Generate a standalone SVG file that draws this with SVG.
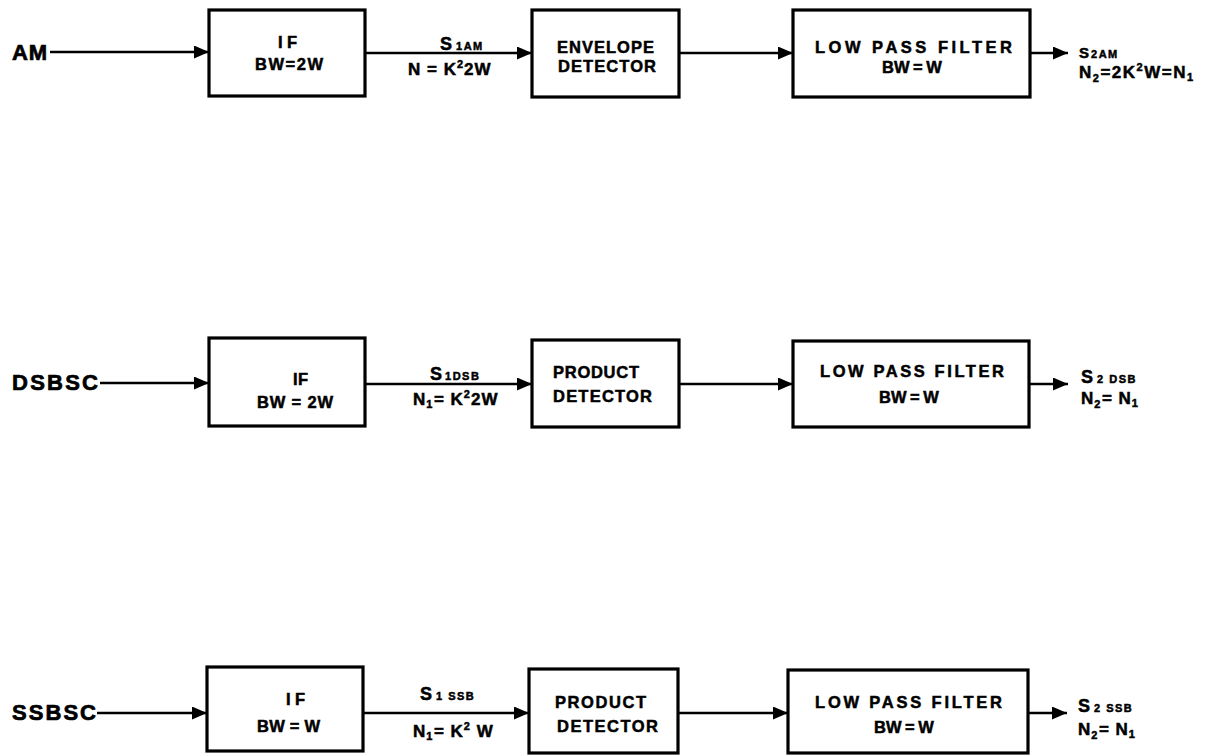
<svg xmlns="http://www.w3.org/2000/svg" width="1212" height="755" viewBox="0 0 1212 755">
<style>
.box{fill:#fff;stroke:#000;stroke-width:3.2}
.wire{fill:none;stroke:#000;stroke-width:2.6}
text{font-family:"Liberation Sans",Arial,sans-serif;font-weight:bold;fill:#000;stroke:#000;stroke-width:0.5}
.big{font-size:22px;stroke-width:0.7}
.bt{font-size:16.5px}
.bw{letter-spacing:0px;word-spacing:-1px}
.lb{font-size:17px;letter-spacing:1px}
.sub{font-size:11px;letter-spacing:1.5px}
.sup{font-size:11px}
</style>
<defs>
<marker id="ah" viewBox="0 0 15 13" refX="15" refY="6.5" markerWidth="15" markerHeight="13" markerUnits="userSpaceOnUse" orient="auto">
<path d="M0,0 L15,6.5 L0,13 Z" fill="#000"/>
</marker>
</defs>
<rect width="1212" height="755" fill="#fff"/>
<g id="connectors">
<line class="wire" x1="50" y1="52" x2="209" y2="52" marker-end="url(#ah)"/>
<line class="wire" x1="365" y1="53" x2="532" y2="53" marker-end="url(#ah)"/>
<line class="wire" x1="679" y1="53" x2="793" y2="53" marker-end="url(#ah)"/>
<line class="wire" x1="1030" y1="53" x2="1068" y2="53" marker-end="url(#ah)"/>
<line class="wire" x1="100" y1="383" x2="209" y2="383" marker-end="url(#ah)"/>
<line class="wire" x1="365" y1="384" x2="532" y2="384" marker-end="url(#ah)"/>
<line class="wire" x1="679" y1="384" x2="793" y2="384" marker-end="url(#ah)"/>
<line class="wire" x1="1029" y1="384" x2="1068" y2="384" marker-end="url(#ah)"/>
<line class="wire" x1="97" y1="713" x2="207" y2="713" marker-end="url(#ah)"/>
<line class="wire" x1="363" y1="713" x2="529" y2="713" marker-end="url(#ah)"/>
<line class="wire" x1="678" y1="713" x2="788" y2="713" marker-end="url(#ah)"/>
<line class="wire" x1="1028" y1="713" x2="1067" y2="713" marker-end="url(#ah)"/>
</g>
<g id="labels">
<text class="big" x="12" y="60" textLength="35" lengthAdjust="spacing">AM</text>
<text class="big" x="12" y="390" textLength="86" lengthAdjust="spacing">DSBSC</text>
<text class="big" x="12" y="720" textLength="84" lengthAdjust="spacing">SSBSC</text>
<text class="lb" x="440" y="50" style="font-size:18px">S<tspan class="sub" dx="3">1AM</tspan></text>
<text class="lb" x="408" y="75">N = K<tspan class="sup" dy="-7">2</tspan><tspan dy="7">2W</tspan></text>
<text class="lb" x="430" y="380" style="font-size:18px">S<tspan class="sub" dx="2">1DSB</tspan></text>
<text class="lb" x="413" y="405">N<tspan class="sub" dy="3">1</tspan><tspan dy="-3">= K</tspan><tspan class="sup" dy="-7">2</tspan><tspan dy="7">2W</tspan></text>
<text class="lb" x="420" y="700" style="font-size:18px">S<tspan class="sub" dx="3">1 SSB</tspan></text>
<text class="lb" x="413" y="737">N<tspan class="sub" dy="3">1</tspan><tspan dy="-3">= K</tspan><tspan class="sup" dy="-7">2</tspan><tspan dy="7"> W</tspan></text>
<text class="lb" x="1079" y="58" style="font-size:15px">S<tspan class="sub" dx="1">2AM</tspan></text>
<text class="lb" x="1079" y="78" style="letter-spacing:1.5px">N<tspan class="sub" dy="4">2</tspan><tspan dy="-4">=2K</tspan><tspan class="sup" dy="-7">2</tspan><tspan dy="7">W=N</tspan><tspan class="sub" dy="3">1</tspan></text>
<text class="lb" x="1081" y="383" style="font-size:18px">S<tspan class="sub" dx="3">2 DSB</tspan></text>
<text class="lb" x="1081" y="404">N<tspan class="sub" dy="4">2</tspan><tspan dy="-4">= N</tspan><tspan class="sub" dy="3">1</tspan></text>
<text class="lb" x="1078" y="712" style="font-size:18px">S<tspan class="sub" dx="3">2 SSB</tspan></text>
<text class="lb" x="1078" y="735">N<tspan class="sub" dy="4">2</tspan><tspan dy="-4">= N</tspan><tspan class="sub" dy="3">1</tspan></text>
</g>
<g id="if-am">
<rect class="box" x="209" y="10" width="156" height="86"/>
<text class="bt" x="278" y="48" textLength="19" lengthAdjust="spacing">I F</text>
<text class="bt" x="255" y="70" textLength="68" lengthAdjust="spacing">BW=2W</text>
</g>
<g id="env-det">
<rect class="box" x="532" y="10" width="147" height="87"/>
<text class="bt" x="557" y="53" textLength="97" lengthAdjust="spacing">ENVELOPE</text>
<text class="bt" x="558" y="72" textLength="98" lengthAdjust="spacing">DETECTOR</text>
</g>
<g id="lpf-am">
<rect class="box" x="793" y="10" width="237" height="87"/>
<text class="bt" x="815" y="53" textLength="197" lengthAdjust="spacing">LOW  PASS  FILTER</text>
<text class="bt bw" x="882" y="73">BW = W</text>
</g>
<g id="if-dsb">
<rect class="box" x="209" y="338" width="156" height="88"/>
<text class="bt" x="293" y="385" textLength="15" lengthAdjust="spacing">IF</text>
<text class="bt" x="257" y="408" textLength="76" lengthAdjust="spacing">BW = 2W</text>
</g>
<g id="prod-dsb">
<rect class="box" x="532" y="340" width="147" height="87"/>
<text class="bt" x="553" y="378" textLength="86" lengthAdjust="spacing">PRODUCT</text>
<text class="bt" x="553" y="402" textLength="99" lengthAdjust="spacing">DETECTOR</text>
</g>
<g id="lpf-dsb">
<rect class="box" x="793" y="341" width="236" height="86"/>
<text class="bt" x="820" y="377" textLength="184" lengthAdjust="spacing">LOW  PASS  FILTER</text>
<text class="bt bw" x="879" y="403">BW = W</text>
</g>
<g id="if-ssb">
<rect class="box" x="207" y="667" width="156" height="84"/>
<text class="bt" x="286" y="705" textLength="19" lengthAdjust="spacing">I F</text>
<text class="bt" x="257" y="732" textLength="63" lengthAdjust="spacing">BW = W</text>
</g>
<g id="prod-ssb">
<rect class="box" x="529" y="669" width="149" height="84"/>
<text class="bt" x="555" y="708" textLength="91" lengthAdjust="spacing">PRODUCT</text>
<text class="bt" x="557" y="732" textLength="101" lengthAdjust="spacing">DETECTOR</text>
</g>
<g id="lpf-ssb">
<rect class="box" x="788" y="670" width="240" height="83"/>
<text class="bt" x="815" y="708" textLength="187" lengthAdjust="spacing">LOW  PASS  FILTER</text>
<text class="bt bw" x="874" y="733">BW = W</text>
</g>
</svg>
